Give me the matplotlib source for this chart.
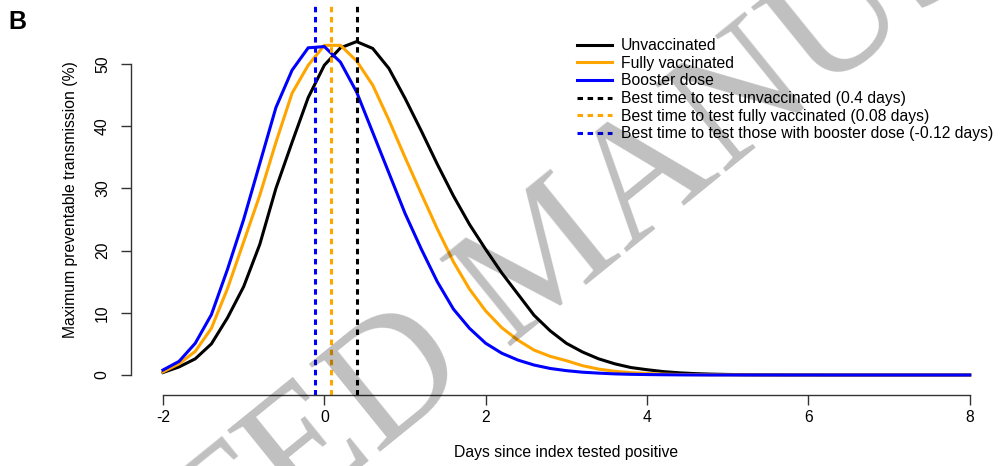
import matplotlib
matplotlib.use("Agg")
import matplotlib.pyplot as plt
import numpy as np

plt.rcParams['font.family'] = ['Liberation Sans', 'DejaVu Sans']

days = [-2.0, -1.8, -1.6, -1.4, -1.2, -1.0, -0.8, -0.6, -0.4, -0.2, 0.0, 0.2, 0.4, 0.6, 0.8,
        1.0, 1.2, 1.4, 1.6, 1.8, 2.0, 2.2, 2.4, 2.6, 2.8, 3.0, 3.2, 3.4, 3.6, 3.8, 4.0,
        4.2, 4.4, 4.6, 4.8, 5.0, 5.2, 5.4, 5.6, 5.8, 6.0, 6.2, 6.4, 6.6, 6.8, 7.0,
        7.2, 7.4, 7.6, 7.8, 8.0]

unvaccinated = [0.4, 1.3, 2.6, 5.0, 9.2, 14.2, 21.0, 30.0, 37.4, 44.6, 49.8, 52.6, 53.6, 52.5, 49.3,
                44.5, 39.3, 33.9, 28.8, 24.2, 20.2, 16.4, 13.0, 9.6, 7.1, 5.1, 3.7, 2.6, 1.8, 1.2, 0.85,
                0.55, 0.35, 0.22, 0.14, 0.09, 0.05, 0.03, 0.02, 0.01, 0.01, 0.0, 0.0, 0.0, 0.0, 0.0,
                0.0, 0.0, 0.0, 0.0, 0.0]

fully_vaccinated = [0.5, 1.8, 3.8, 7.5, 13.9, 21.4, 28.9, 37.4, 45.3, 49.8, 53.0, 53.0, 50.5, 46.6, 41.0,
                    35.0, 29.2, 23.5, 18.2, 13.8, 10.3, 7.6, 5.6, 4.0, 3.0, 2.3, 1.5, 0.95, 0.6, 0.38, 0.24,
                    0.14, 0.08, 0.05, 0.03, 0.02, 0.01, 0.0, 0.0, 0.0, 0.0, 0.0, 0.0, 0.0, 0.0, 0.0,
                    0.0, 0.0, 0.0, 0.0, 0.0]

booster = [0.8, 2.2, 5.1, 9.7, 17.0, 25.0, 34.0, 43.0, 49.0, 52.6, 52.8, 50.3, 45.5, 39.0, 32.5,
           26.0, 20.3, 15.0, 10.6, 7.5, 5.1, 3.5, 2.4, 1.6, 1.05, 0.7, 0.45, 0.3, 0.18, 0.11, 0.07,
           0.04, 0.02, 0.01, 0.0, 0.0, 0.0, 0.0, 0.0, 0.0, 0.0, 0.0, 0.0, 0.0, 0.0, 0.0,
           0.0, 0.0, 0.0, 0.0, 0.0]

best_times = [0.4, 0.08, -0.12]
series_labels = ["Unvaccinated", "Fully vaccinated", "Booster dose"]
best_labels = ["Best time to test unvaccinated (0.4 days)",
               "Best time to test fully vaccinated (0.08 days)",
               "Best time to test those with booster dose (-0.12 days)"]
colors = ["black", "orange", "blue"]
x_ticks = [-2, 0, 2, 4, 6, 8]
y_ticks = [0, 10, 20, 30, 40, 50]

W, H = 1000, 466
fig = plt.figure(figsize=(W / 100, H / 100), dpi=100)
# plot region in pixels: left 130.7, right 1002, top 5, bottom 395
left, right, top, bottom = 130.7, 1002.0, 5.0, 395.0
ax = fig.add_axes([left / W, 1 - bottom / H, (right - left) / W, (bottom - top) / H])

FS = 11.3
handles = []
for ys, c, lab in zip([unvaccinated, fully_vaccinated, booster], colors, series_labels):
    h, = ax.plot(days, ys, color=c, lw=2.2, label=lab, solid_joinstyle='miter')
    handles.append(h)
for bt, c, lab in zip(best_times, colors, best_labels):
    h = ax.axvline(bt, color=c, lw=2.2, ls=(0, (1.8, 1.5)), label=lab)
    handles.append(h)

ax.set_xlim(-2.4, 8.4)
ax.set_ylim((375 - 395) / 6.22, (375 - 5) / 6.22)

for s in ['top', 'right']:
    ax.spines[s].set_visible(False)
ax.spines['bottom'].set_bounds(-2, 8)
ax.spines['left'].set_bounds(0, 50)
for s in ['bottom', 'left']:
    ax.spines[s].set_linewidth(1.0)
    ax.spines[s].set_color('#333333')
ax.set_xticks(x_ticks)
ax.set_xticklabels([str(v) for v in x_ticks])
ax.set_yticks(y_ticks)
ax.set_yticklabels([str(v) for v in y_ticks], rotation=90, va='center')
ax.tick_params(axis='both', direction='out', length=7, width=1.0, colors='#333333',
               labelcolor='black', labelsize=FS)
ax.tick_params(axis='x', pad=4)
ax.tick_params(axis='y', pad=8)

ax.set_xlabel("Days since index tested positive", fontsize=FS, labelpad=14)
ax.set_ylabel("Maximum preventable transmission (%)", fontsize=FS, labelpad=12)

leg = ax.legend(handles=handles, loc='upper left', bbox_to_anchor=(577 / W, 1 - 38 / H),
                bbox_transform=fig.transFigure, frameon=False, fontsize=FS,
                handlelength=2.2, handletextpad=0.6, labelspacing=0.17, borderpad=0,
                borderaxespad=0)

fig.text(8 / W, 1 - 22 / H, "B", fontsize=18, fontweight='bold', va='center', ha='left')

# watermark
fig.text(576 / W, 1 - 293 / H, "ACCEPTED MANUSCRIPT", family='Liberation Serif',
         fontsize=124, color='black', alpha=0.25, rotation=39, rotation_mode='anchor',
         ha='center', va='baseline', zorder=10)

fig.savefig("out.png", dpi=100)
